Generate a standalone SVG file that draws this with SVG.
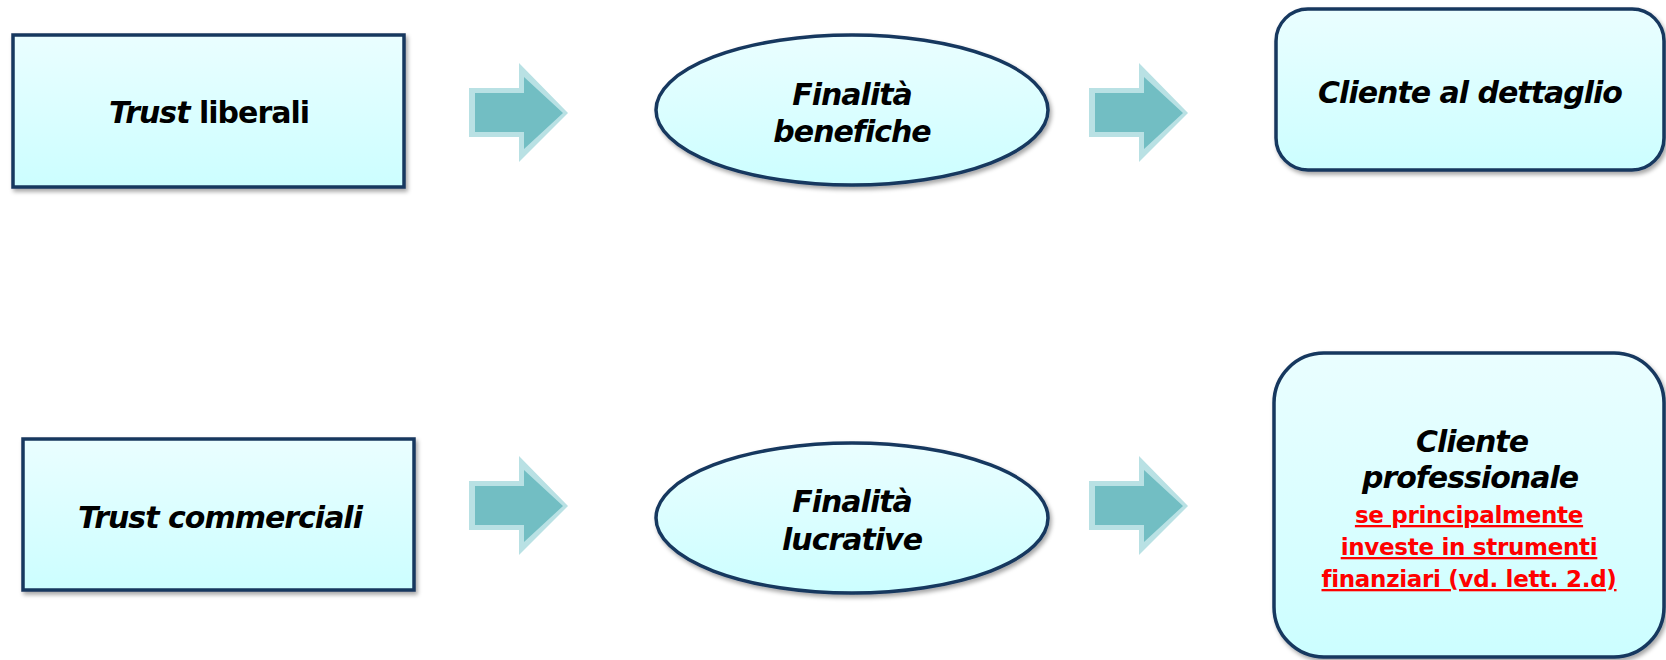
<svg xmlns="http://www.w3.org/2000/svg" width="1666" height="660" viewBox="0 0 1666 660">
<defs>
  <linearGradient id="fillG" x1="0" y1="0" x2="0" y2="1">
    <stop offset="0" stop-color="#EAFEFF"/>
    <stop offset="1" stop-color="#CCFEFF"/>
  </linearGradient>
  <filter id="sh" x="-5%" y="-5%" width="115%" height="120%">
    <feDropShadow dx="2" dy="3" stdDeviation="2" flood-color="#000" flood-opacity="0.35"/>
  </filter>
  <g id="arrow">
    <polygon points="0,25 50,25 50,0 99,50 50,99 50,74 0,74" fill="#B9E1E4"/>
    <polygon points="6,30 55,30 55,14 94,50 55,86 55,69 6,69" fill="#72BEC3"/>
  </g>
</defs>
<style>
  .node { fill: url(#fillG); stroke: #17375E; stroke-width: 3.5; filter: url(#sh); }
  .t { font-family: "DejaVu Sans", Verdana, sans-serif; font-weight: bold; font-size: 30px; letter-spacing: -1px; fill: #000; text-anchor: middle; }
  .i { font-style: italic; }
  .red { font-family: "DejaVu Sans", Verdana, sans-serif; font-weight: bold; font-size: 23px; letter-spacing: -0.3px; fill: #FF0000; text-anchor: middle; text-decoration: underline; }
</style>
<rect width="1666" height="660" fill="#FFFFFF"/>

<g id="connectors">
  <use href="#arrow" x="469" y="63"/>
  <use href="#arrow" x="1089" y="63"/>
  <use href="#arrow" x="469" y="456"/>
  <use href="#arrow" x="1089" y="456"/>
</g>

<g id="trust-liberali">
  <rect class="node" x="13" y="35" width="391" height="152"/>
  <text class="t" x="209" y="123"><tspan class="i">Trust</tspan> liberali</text>
</g>

<g id="finalita-benefiche">
  <ellipse class="node" cx="852" cy="110" rx="196" ry="75"/>
  <text class="t i" x="852" y="105">Finalità</text>
  <text class="t i" x="852" y="142">benefiche</text>
</g>

<g id="cliente-dettaglio">
  <rect class="node" x="1276" y="9" width="388" height="161" rx="32" ry="32"/>
  <text class="t i" x="1470" y="103">Cliente al dettaglio</text>
</g>

<g id="trust-commerciali">
  <rect class="node" x="23" y="439" width="391" height="151"/>
  <text class="t i" x="220" y="528">Trust commerciali</text>
</g>

<g id="finalita-lucrative">
  <ellipse class="node" cx="852" cy="518" rx="196" ry="75"/>
  <text class="t i" x="852" y="512">Finalità</text>
  <text class="t i" x="852" y="550">lucrative</text>
</g>

<g id="cliente-professionale">
  <rect class="node" x="1274" y="353" width="390" height="304" rx="50" ry="50"/>
  <text class="t i" x="1472" y="452">Cliente</text>
  <text class="t i" x="1470" y="488">professionale</text>
  <text class="red" x="1469" y="523">se principalmente</text>
  <text class="red" x="1469" y="555">investe in strumenti</text>
  <text class="red" x="1469" y="587">finanziari (vd. lett. 2.d)</text>
</g>
</svg>
